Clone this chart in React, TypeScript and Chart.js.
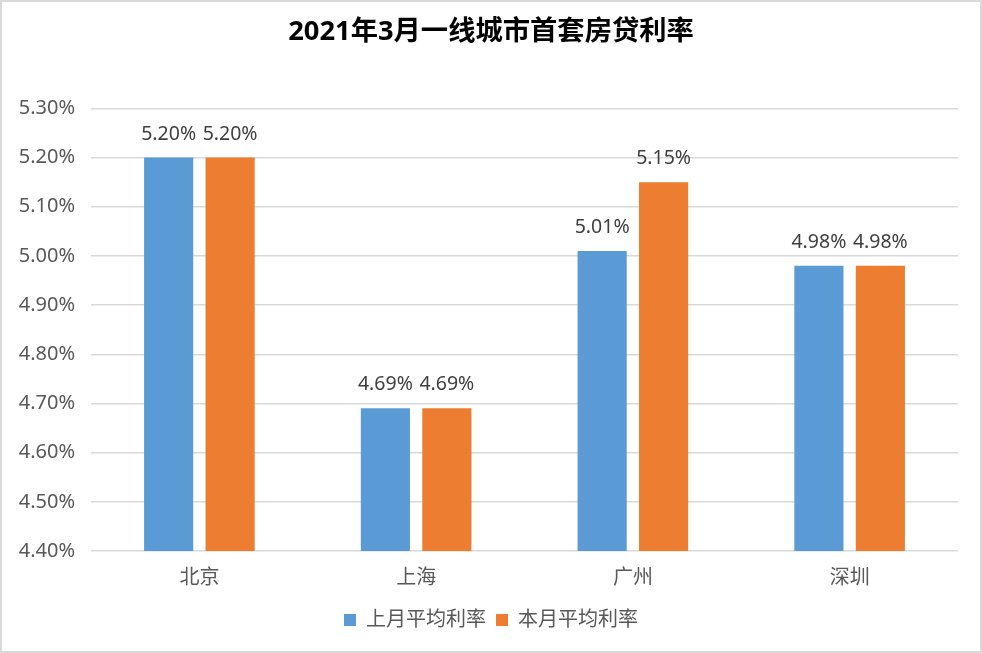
import React, { useEffect, useRef } from "react";
import { Chart, registerables } from "chart.js";

Chart.register(...registerables);

const categories = ["北京", "上海", "广州", "深圳"];
const lastMonthRates = [5.2, 4.69, 5.01, 4.98];
const thisMonthRates = [5.2, 4.69, 5.15, 4.98];
const seriesNames = ["上月平均利率", "本月平均利率"];
const titleText = "2021年3月一线城市首套房贷利率";
const yMin = 4.4;
const yMax = 5.3;
const yStep = 0.1;

const FONT = "'Noto Sans', 'Noto Sans CJK SC', sans-serif";

const frameAndLabels = {
  id: "frameAndLabels",
  beforeDraw(chart: any) {
    const { ctx, width, height } = chart;
    ctx.save();
    ctx.fillStyle = "#ffffff";
    ctx.fillRect(0, 0, width, height);
    ctx.restore();
  },
  afterDatasetsDraw(chart: any) {
    const { ctx } = chart;
    ctx.save();
    ctx.font = `19.5px ${FONT}`;
    ctx.fillStyle = "#404040";
    ctx.textAlign = "center";
    ctx.textBaseline = "alphabetic";
    chart.data.datasets.forEach((ds: any, i: number) => {
      const meta = chart.getDatasetMeta(i);
      meta.data.forEach((el: any, j: number) => {
        const v = ds.data[j] as number;
        ctx.fillText(v.toFixed(2) + "%", el.x, el.y - 18);
      });
    });
    ctx.restore();
  },
  afterDraw(chart: any) {
    const { ctx, width, height } = chart;
    ctx.save();
    ctx.strokeStyle = "#d9d9d9";
    ctx.lineWidth = 2;
    ctx.strokeRect(1, 1, width - 2, height - 2);
    ctx.restore();
  },
};

export default function App() {
  const ref = useRef<HTMLCanvasElement | null>(null);

  useEffect(() => {
    document.body.style.margin = "0";
    const canvas = ref.current!;
    const chart = new Chart(canvas, {
      type: "bar",
      data: {
        labels: categories,
        datasets: [
          {
            label: seriesNames[0],
            data: lastMonthRates,
            backgroundColor: "#5B9BD5",
            categoryPercentage: 0.567,
            barPercentage: 0.8,
          },
          {
            label: seriesNames[1],
            data: thisMonthRates,
            backgroundColor: "#ED7D31",
            categoryPercentage: 0.567,
            barPercentage: 0.8,
          },
        ],
      },
      options: {
        animation: false,
        responsive: false,
        devicePixelRatio: 1,
        layout: { padding: { left: 0, right: 0, top: 0, bottom: 13 } },
        scales: {
          x: {
            grid: { display: false },
            border: { display: false },
            ticks: {
              color: "#595959",
              font: { family: FONT, size: 20 },
              padding: 7,
            },
            afterFit(scale: any) {
              scale.height = 49;
            },
          },
          y: {
            position: "left",
            min: yMin,
            max: yMax,
            grid: { color: "#d9d9d9", lineWidth: 1.5, drawTicks: false },
            border: { display: false },
            ticks: {
              stepSize: yStep,
              color: "#595959",
              font: { family: FONT, size: 20 },
              padding: 16,
              callback: (v: any) => Number(v).toFixed(2) + "%",
            },
            afterFit(scale: any) {
              scale.width = 91;
            },
          },
          yRight: {
            position: "right",
            min: yMin,
            max: yMax,
            grid: { display: false, drawTicks: false },
            border: { display: false },
            ticks: { display: false },
            afterFit(scale: any) {
              scale.width = 24;
            },
          },
        },
        plugins: {
          title: {
            display: true,
            text: titleText,
            color: "#000000",
            font: { family: FONT, size: 27.3, weight: "bold" },
            padding: { top: 16, bottom: 59.6 },
          },
          legend: {
            display: true,
            position: "bottom",
            labels: {
              color: "#595959",
              font: { family: FONT, size: 20 },
              boxWidth: 12,
              boxHeight: 12,
              padding: 10,
            },
          },
          tooltip: { enabled: false },
        },
      },
      plugins: [frameAndLabels],
    });
    return () => chart.destroy();
  }, []);

  return <canvas ref={ref} width={982} height={653} style={{ display: "block" }} />;
}
